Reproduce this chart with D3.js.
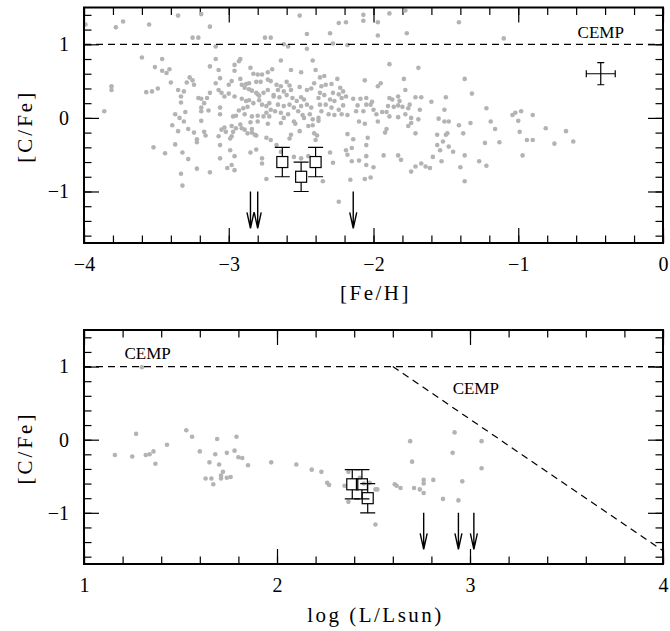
<!DOCTYPE html>
<html lang="en">
<head>
<meta charset="UTF-8">
<title>[C/Fe] vs [Fe/H] and log L</title>
<script src="https://cdnjs.cloudflare.com/ajax/libs/d3/7.8.5/d3.min.js"></script>
<style>
body { margin: 0; background: #fff; }
svg { display: block; }
</style>
</head>
<body>
<svg id="chart" width="670" height="631"></svg>
<script>
// ---- top panel: [C/Fe] vs [Fe/H], comparison stars (grey dots)
var feStars = [
[-3.99,1.27],[-3.78,1.23],[-3.73,1.31],[-3.55,1.27],[-3.35,1.39],[-3.19,1.41],[-3.13,1.24],[-3.25,1.09],[-3.21,1.09],[-2.75,1.09],[-2.71,1.09],[-3.09,0.97],
[-3.60,0.82],[-3.46,0.80],[-3.51,0.69],[-3.46,0.64],[-3.43,0.61],[-3.41,0.66],[-3.40,0.48],[-3.81,0.43],[-3.81,0.38],[-3.57,0.35],[-3.53,0.36],[-3.49,0.40],
[-3.86,0.09],[-3.09,0.80],[-3.13,0.70],[-3.07,0.65],[-3.06,0.54],[-3.09,0.47],[-3.27,0.55],[-3.25,0.51],[-3.29,0.48],[-3.24,0.45],[-3.35,0.38],[-3.31,0.36],
[-3.33,0.29],[-3.33,0.21],[-3.21,0.27],[-3.19,0.26],[-3.15,0.27],[-3.17,0.20],[-3.19,0.14],[-3.37,0.05],[-3.34,0.00],[-3.30,0.08],[-3.19,0.09],[-3.19,-0.04],
[-3.14,0.10],[-3.06,0.14],[-3.06,0.05],[-3.13,0.34],[-3.07,0.38],[-3.05,0.34],[-3.03,0.29],[-3.00,0.33],[-2.96,0.29],[-2.98,0.50],[-2.96,0.64],[-2.96,0.72],
[-2.93,0.77],[-2.92,0.80],[-3.00,0.45],[-2.92,0.53],[-2.91,0.45],
[-2.85,0.68],[-2.83,0.60],[-2.80,0.59],[-2.77,0.59],[-2.73,0.62],[-2.70,0.66],[-2.73,0.52],[-2.78,0.49],[-2.81,0.49],[-2.86,0.47],[-2.88,0.46],[-2.89,0.41],
[-2.86,0.39],[-2.84,0.37],[-2.80,0.32],[-2.79,0.30],[-2.81,0.34],[-2.76,0.34],[-2.73,0.38],[-2.69,0.31],[-2.91,0.26],[-2.88,0.23],[-2.86,0.24],[-2.83,0.20],
[-2.77,0.18],[-2.74,0.16],[-2.72,0.20],[-2.79,0.24],[-2.87,0.15],[-2.90,0.13],[-2.93,0.10],[-2.97,0.02],[-2.95,0.03],[-2.89,0.05],[-2.84,0.02],[-2.80,0.03],
[-2.76,0.02],[-2.72,0.02],[-2.74,0.07],[-2.71,0.11],
[-3.39,-0.10],[-3.31,-0.05],[-3.35,-0.18],[-3.28,-0.15],[-3.24,-0.20],[-3.22,-0.29],[-3.22,-0.33],[-3.17,-0.19],[-3.16,-0.24],[-3.52,-0.40],[-3.44,-0.48],
[-3.37,-0.36],[-3.32,-0.47],[-3.28,-0.56],[-3.33,-0.76],[-3.32,-0.92],[-3.22,-0.69],[-3.13,-0.74],[-3.07,-0.25],[-3.06,-0.37],[-3.05,-0.16],[-3.03,-0.13],
[-3.02,-0.19],[-2.98,-0.11],[-2.97,-0.19],[-2.98,-0.25],[-2.99,-0.28],[-2.99,-0.44],[-2.96,-0.52],[-3.06,-0.55],[-3.01,-0.68],[-2.98,-0.64],[-2.96,-0.71],
[-2.85,-0.47],[-2.81,-0.43],[-2.77,-0.55],[-2.77,-0.62],[-2.74,-0.83],[-2.81,-0.24],[-2.74,-0.27],[-2.71,-0.30],[-2.73,-0.08],
[-2.95,-0.14],[-2.92,-0.09],[-2.91,-0.14],[-2.89,-0.16],[-2.87,-0.21],[-2.84,-0.20],[-2.82,-0.23],[-2.85,-0.06],[-2.84,-0.15],[-2.80,-0.05],
[-2.51,1.39],[-2.07,1.40],[-2.07,1.32],[-2.24,1.29],[-2.19,1.30],[-1.97,1.30],[-1.89,1.42],[-1.78,1.46],[-1.41,1.30],[-2.46,1.14],[-2.30,1.15],[-1.97,1.12],
[-1.77,1.15],[-2.62,1.00],[-2.59,0.97],[-2.46,0.94],[-2.28,1.01],[-2.18,0.99],[-2.64,0.78],[-2.42,0.78],[-2.57,0.65],[-2.50,0.62],[-2.40,0.65],[-2.37,0.55],
[-2.34,0.57],[-2.25,0.53],[-1.89,0.73],[-1.69,0.68],[-2.06,0.51],[-1.79,0.53],[-1.97,0.43],[-1.95,0.47],[-1.78,0.38],
[-2.71,0.50],[-2.67,0.45],[-2.64,0.43],[-2.60,0.49],[-2.58,0.44],[-2.66,0.38],[-2.62,0.36],[-2.57,0.38],[-2.51,0.42],[-2.46,0.38],[-2.43,0.40],[-2.69,0.29],
[-2.65,0.28],[-2.60,0.31],[-2.56,0.27],[-2.53,0.23],[-2.50,0.28],[-2.48,0.25],[-2.66,0.18],[-2.62,0.16],[-2.58,0.18],[-2.55,0.14],[-2.50,0.16],[-2.46,0.18],
[-2.43,0.14],[-2.68,0.09],[-2.64,0.07],[-2.59,0.05],[-2.52,0.09],[-2.49,0.04],[-2.44,0.05],[-2.62,0.00],[-2.55,-0.05],[-2.48,0.00],[-2.42,-0.02],
[-2.41,0.47],[-2.36,0.43],[-2.33,0.45],[-2.29,0.46],[-2.23,0.41],[-2.21,0.36],[-2.37,0.34],[-2.34,0.31],[-2.28,0.34],[-2.24,0.32],[-2.38,0.27],[-2.30,0.25],
[-2.27,0.23],[-2.22,0.27],[-2.19,0.29],[-2.37,0.18],[-2.33,0.18],[-2.29,0.14],[-2.24,0.11],[-2.21,0.17],[-2.36,0.09],[-2.31,0.05],[-2.27,0.04],[-2.22,0.05],
[-2.18,0.04],[-2.38,0.00],
[-2.14,0.26],[-2.09,0.26],[-2.05,0.27],[-2.01,0.22],[-2.11,0.17],[-2.05,0.18],[-2.02,0.18],[-2.12,0.09],[-2.07,0.09],[-2.00,0.11],[-1.98,0.05],[-1.94,0.08],
[-1.91,0.08],[-1.89,0.27],[-1.87,0.25],[-1.83,0.29],[-1.82,0.23],[-1.83,0.17],[-1.90,0.16],[-1.86,0.15],[-1.80,0.15],[-1.75,0.18],[-1.76,0.13],[-1.71,0.28],
[-1.67,0.28],[-1.60,0.22],[-1.50,0.28],[-1.68,0.11],[-1.51,0.11],[-1.89,0.02],[-1.83,0.01],[-1.78,0.05],[-1.74,0.00],[-1.69,-0.02],[-1.55,-0.01],[-1.48,-0.05],
[-2.64,-0.07],[-2.54,-0.08],[-2.45,-0.11],[-2.42,-0.10],[-2.38,-0.04],[-2.57,-0.23],[-2.51,-0.18],[-2.58,-0.28],[-2.41,-0.21],[-2.39,-0.24],[-2.40,-0.30],
[-2.67,-0.37],[-2.64,-0.46],[-2.55,-0.53],[-2.50,-0.55],[-2.45,-0.52],[-2.30,-0.47],[-2.28,-0.61],[-2.35,-0.86],[-2.18,-0.22],[-2.14,-0.29],[-2.19,-0.44],
[-2.18,-0.50],[-2.15,-0.41],[-2.15,-0.59],[-2.10,-0.58],[-2.16,-0.84],[-2.06,-0.83],[-2.02,-0.81],[-2.05,-0.64],[-2.00,-0.67],[-2.04,-0.27],[-2.05,-0.37],
[-2.05,-0.52],[-2.10,-0.05],[-2.06,-0.08],[-1.97,-0.05],[-1.91,-0.15],[-1.92,-0.20],[-1.93,-0.51],[-1.83,-0.51],[-1.81,-0.57],[-2.24,-1.14],
[-1.76,-0.11],[-1.74,-0.07],[-1.71,-0.21],[-1.56,-0.23],[-1.50,-0.23],[-1.52,-0.32],[-1.56,-0.37],[-1.54,-0.44],[-1.59,-0.53],[-1.53,-0.59],[-1.49,-0.21],
[-1.48,-0.39],[-1.45,-0.46],[-1.71,-0.66],[-1.74,-0.73],[-1.67,-0.62],[-1.64,-0.66],[-1.61,-0.68],[-1.40,-0.67],[-1.41,-0.10],[-1.38,-0.21],[-1.51,-0.05],
[-1.37,0.53],[-1.32,0.33],[-1.10,1.08],[-1.22,0.13],[-1.04,0.04],[-1.02,0.07],[-1.00,-0.04],[-0.98,0.09],[-0.90,0.04],[-0.81,-0.14],[-0.67,-0.18],[-0.62,-0.32],
[-0.75,-0.35],[-0.94,-0.30],[-0.90,-0.30],[-0.99,-0.19],[-0.97,-0.51],[-1.19,-0.05],[-1.16,-0.15],[-1.13,-0.33],[-1.23,-0.34],[-1.27,-0.59],[-1.22,-0.65],
[-1.37,-0.51],[-1.37,-0.86],[-1.33,-0.07]
];
var feOurs = [[-2.63,-0.60],[-2.50,-0.80],[-2.40,-0.60]];   // open squares
var feLimits = [[-2.85,-1.0],[-2.80,-1.0],[-2.14,-1.0]];    // upper limits
var feTypErr = [-0.43, 0.60, 0.10, 0.15];                   // x, y, dx, dy

// ---- bottom panel: [C/Fe] vs log(L/Lsun)
var lumStars = [
[1.16,-0.21],[1.25,-0.23],[1.27,0.08],[1.32,-0.21],[1.34,-0.20],[1.36,-0.16],[1.37,-0.33],[1.43,-0.07],[1.30,0.99],[1.53,0.13],[1.56,0.04],[1.60,-0.16],
[1.63,-0.53],[1.65,-0.31],[1.66,-0.53],[1.67,-0.61],[1.68,-0.20],[1.69,0.01],[1.70,-0.34],[1.71,-0.53],[1.71,-0.49],[1.72,-0.44],[1.74,-0.52],[1.76,-0.51],
[1.74,-0.18],[1.78,-0.15],[1.79,0.04],[1.80,-0.24],[1.82,-0.25],[1.85,-0.35],[1.97,-0.31],[2.10,-0.34],[2.18,-0.41],[2.23,-0.44],[2.26,-0.59],[2.27,-0.62],
[2.37,-0.44],[2.35,-0.63],[2.37,-0.85],[2.43,-0.52],[2.45,-0.60],[2.48,-0.59],[2.51,-0.68],[2.52,-0.68],[2.51,-1.16],[2.69,-0.02],[2.70,-0.30],[2.61,-0.61],
[2.62,-0.63],[2.64,-0.66],[2.71,-0.66],[2.74,-0.68],[2.76,-0.55],[2.76,-0.60],[2.76,-0.73],[2.81,-0.55],[2.86,-0.81],[2.91,-0.18],[2.92,0.10],[2.94,-0.83],
[2.96,-0.57],[3.06,-0.02],[3.06,-0.39]
];
var lumOurs = [[2.39,-0.61],[2.44,-0.61],[2.47,-0.80]];
var lumLimits = [[2.76,-1.0],[2.94,-1.0],[3.02,-1.0]];
var cempSlant = [[2.60,1.0],[4.0,-1.52]];

// ---- axes
var feTicks = [-4,-3,-2,-1,0];
var lumTicks = [1,2,3,4];
var cfeTicks = [-1,0,1];
var cfeDomain = [-1.7, 1.5];
var ourErr = 0.2;
var limitLen = 0.5;

var FONT = "'Liberation Serif', 'Times New Roman', serif";
var svg = d3.select("#chart");
var X0 = 84, X1 = 663;

function drawPanel(o) {
	var g = svg.append("g");
	var x = d3.scaleLinear().domain(o.xDomain).range([X0, X1]);
	var y = d3.scaleLinear().domain(cfeDomain).range([o.bottom, o.top]);

	var xMinor = d3.ticks(o.xDomain[0], o.xDomain[1], Math.round((o.xDomain[1]-o.xDomain[0])/0.2));
	var yMinor = d3.ticks(cfeDomain[0], cfeDomain[1], 16);

	function side(axisFn, scale, vals, len, pos, labels) {
		var a = axisFn(scale).tickValues(vals).tickSize(-len)
			.tickPadding(labels ? (axisFn === d3.axisBottom ? 14 : 15) : 0)
			.tickFormat(labels ? d3.format("d") : "");
		var ag = g.append("g").attr("transform", pos).call(a);
		ag.select(".domain").remove();
		ag.selectAll("line").attr("stroke", "#000").attr("stroke-width", 1.2);
		ag.attr("font-family", FONT).attr("font-size", 20);
		ag.selectAll("text").attr("fill", "#000");
	}
	side(d3.axisBottom, x, xMinor, 7.5, "translate(0," + o.bottom + ")", false);
	side(d3.axisBottom, x, o.xTicks, 15, "translate(0," + o.bottom + ")", true);
	side(d3.axisTop, x, xMinor, 7.5, "translate(0," + o.top + ")", false);
	side(d3.axisTop, x, o.xTicks, 15, "translate(0," + o.top + ")", false);
	side(d3.axisLeft, y, yMinor, 7.5, "translate(" + X0 + ",0)", false);
	side(d3.axisLeft, y, cfeTicks, 15, "translate(" + X0 + ",0)", true);
	side(d3.axisRight, y, yMinor, 7.5, "translate(" + X1 + ",0)", false);
	side(d3.axisRight, y, cfeTicks, 15, "translate(" + X1 + ",0)", false);

	// comparison sample
	g.append("g").selectAll("circle").data(o.stars).join("circle")
		.attr("cx", function(d) {return x(d[0]);})
		.attr("cy", function(d) {return y(d[1]);})
		.attr("r", 2.3)
		.attr("fill", "#b3b3b3");

	// CEMP boundary
	g.append("line")
		.attr("x1", X0).attr("x2", X1)
		.attr("y1", y(1)).attr("y2", y(1))
		.attr("stroke", "#000").attr("stroke-width", 1.2).attr("stroke-dasharray", "7,5");
	if (o.slant) {
		g.append("line")
			.attr("x1", x(o.slant[0][0])).attr("y1", y(o.slant[0][1]))
			.attr("x2", x(o.slant[1][0])).attr("y2", y(o.slant[1][1]))
			.attr("stroke", "#000").attr("stroke-width", 1.2).attr("stroke-dasharray", "7,5");
	}
	o.cemp.forEach(function(p) {
		g.append("text").attr("x", x(p[0])).attr("y", y(p[1]))
			.attr("font-family", FONT).attr("text-anchor", "middle").attr("font-size", 17).text("CEMP");
	});

	// our stars: error bars + open squares
	var half = 5.5, cap = 7.5;
	var eb = g.append("g").attr("stroke", "#000").attr("stroke-width", 1.2).attr("fill", "none");
	o.ours.forEach(function(d) {
		var cx = x(d[0]), cy = y(d[1]), yt = y(d[1] + ourErr), yb = y(d[1] - ourErr);
		eb.append("path").attr("d",
			"M" + cx + "," + yt + "V" + (cy - half) +
			"M" + cx + "," + (cy + half) + "V" + yb +
			"M" + (cx - cap) + "," + yt + "H" + (cx + cap) +
			"M" + (cx - cap) + "," + yb + "H" + (cx + cap));
		eb.append("rect").attr("x", cx - half).attr("y", cy - half)
			.attr("width", 2 * half).attr("height", 2 * half);
	});

	// upper limits
	o.limits.forEach(function(d) {
		var cx = x(d[0]), y0 = y(d[1]), tip = y(d[1] - limitLen);
		eb.append("path").attr("stroke-width", 1.4).attr("d",
			"M" + cx + "," + y0 + "V" + tip +
			"M" + (cx - 3.5) + "," + (tip - 16) + "L" + cx + "," + tip + "L" + (cx + 3.5) + "," + (tip - 16));
	});

	// typical error
	if (o.typErr) {
		var e = o.typErr, ex = x(e[0]), ey = y(e[1]);
		var xl = x(e[0] - e[2]), xr = x(e[0] + e[2]), yt2 = y(e[1] + e[3]), yb2 = y(e[1] - e[3]);
		eb.append("path").attr("d",
			"M" + xl + "," + ey + "H" + xr +
			"M" + ex + "," + yt2 + "V" + yb2 +
			"M" + xl + "," + (ey - 3.5) + "V" + (ey + 3.5) +
			"M" + xr + "," + (ey - 3.5) + "V" + (ey + 3.5) +
			"M" + (ex - 3.5) + "," + yt2 + "H" + (ex + 3.5) +
			"M" + (ex - 3.5) + "," + yb2 + "H" + (ex + 3.5));
	}

	// frame
	g.append("rect").attr("x", X0).attr("y", o.top)
		.attr("width", X1 - X0).attr("height", o.bottom - o.top)
		.attr("fill", "none").attr("stroke", "#000").attr("stroke-width", 2);

	// axis titles
	g.append("text").attr("x", (X0 + X1) / 2 + 2).attr("y", o.xTitleY)
		.attr("font-family", FONT).attr("text-anchor", "middle").attr("font-size", 21)
		.attr("letter-spacing", 2.5).text(o.xTitle);
	g.append("text")
		.attr("transform", "translate(32," + ((o.top + o.bottom) / 2 + 1) + ") rotate(-90)")
		.attr("font-family", FONT).attr("text-anchor", "middle").attr("font-size", 21)
		.attr("letter-spacing", 3).text("[C/Fe]");
}

drawPanel({
	xDomain: [-4, 0], xTicks: feTicks, top: 7.5, bottom: 243,
	stars: feStars, ours: feOurs, limits: feLimits, typErr: feTypErr,
	cemp: [[-0.43, 1.08]], xTitle: "[Fe/H]", xTitleY: 300
});
drawPanel({
	xDomain: [1, 4], xTicks: lumTicks, top: 330, bottom: 564,
	stars: lumStars, ours: lumOurs, limits: lumLimits, slant: cempSlant,
	cemp: [[1.33, 1.10], [3.03, 0.63]], xTitle: "log (L/Lsun)", xTitleY: 622
});
</script>
</body>
</html>
